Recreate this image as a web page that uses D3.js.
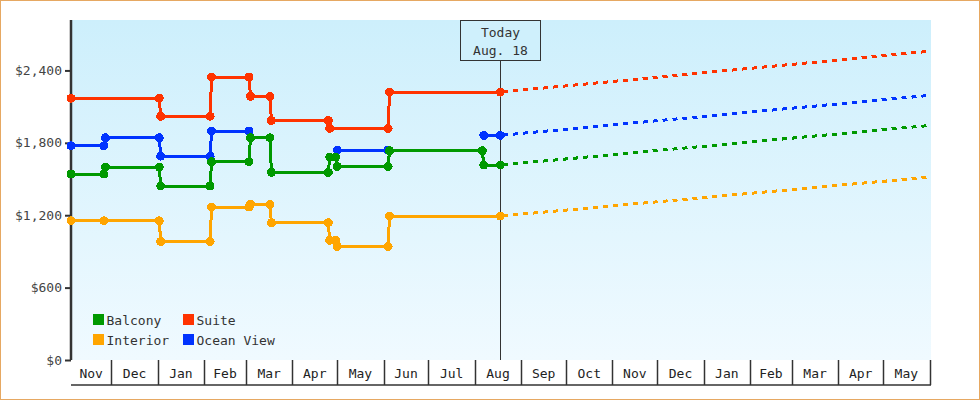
<!DOCTYPE html>
<html>
<head>
<meta charset="utf-8">
<script src="https://cdn.jsdelivr.net/npm/d3@7"></script>
<style>
  body { margin: 0; background: #fff; }
  svg text { font-family: "DejaVu Sans Mono", monospace; font-size: 13px; }
</style>
</head>
<body>
<div id="chart-area"></div>
<script>
// price history per cabin type: [date, price], null price = no data
const interior = [
    ["2012-11-04", 1154], ["2012-11-26", 1154], ["2013-01-02", 1154], ["2013-01-03", 983],
    ["2013-02-05", 983], ["2013-02-06", 1268], ["2013-03-03", 1268], ["2013-03-04", 1290],
    ["2013-03-17", 1290], ["2013-03-18", 1138], ["2013-04-25", 1138], ["2013-04-26", 992],
    ["2013-04-30", 992], ["2013-05-01", 942], ["2013-06-04", 942], ["2013-06-05", 1193],
    ["2013-08-18", 1193]
];
const oceanView = [
    ["2012-11-04", 1775], ["2012-11-26", 1775], ["2012-11-27", 1842], ["2013-01-02", 1842],
    ["2013-01-03", 1690], ["2013-02-05", 1690], ["2013-02-06", 1898], ["2013-03-03", 1898],
    ["2013-03-04", null],
    ["2013-05-01", 1740], ["2013-06-04", 1740],
    ["2013-06-05", null],
    ["2013-08-07", 1862], ["2013-08-18", 1862]
];
const balcony = [
    ["2012-11-04", 1541], ["2012-11-26", 1541], ["2012-11-27", 1599], ["2013-01-02", 1599],
    ["2013-01-03", 1442], ["2013-02-05", 1442], ["2013-02-06", 1643], ["2013-03-03", 1643],
    ["2013-03-04", 1842], ["2013-03-17", 1842], ["2013-03-18", 1555], ["2013-04-25", 1555],
    ["2013-04-26", 1682], ["2013-04-30", 1682], ["2013-05-01", 1605], ["2013-06-04", 1605],
    ["2013-06-05", 1735], ["2013-08-06", 1735], ["2013-08-07", 1616], ["2013-08-18", 1616]
];
const suite = [
    ["2012-11-04", 2170], ["2013-01-02", 2170], ["2013-01-03", 2020], ["2013-02-05", 2020],
    ["2013-02-06", 2345], ["2013-03-03", 2345], ["2013-03-04", 2185], ["2013-03-17", 2185],
    ["2013-03-18", 1985], ["2013-04-25", 1985], ["2013-04-26", 1920], ["2013-06-04", 1920],
    ["2013-06-05", 2220], ["2013-08-18", 2220]
];

const seriesNames = ["Interior", "Ocean View", "Balcony", "Suite"];
const seriesData = [interior, oceanView, balcony, suite];
const seriesColors = ["#ffa500", "#0033ff", "#009900", "#ff3300"];
const projectedEnd = [1517, 2194, 1945, 2560];

const legendOrder = ["Balcony", "Suite", "Interior", "Ocean View"];
const monthLabels = ["Nov", "Dec", "Jan", "Feb", "Mar", "Apr", "May", "Jun", "Jul", "Aug",
    "Sep", "Oct", "Nov", "Dec", "Jan", "Feb", "Mar", "Apr", "May"];
const yTicks = [0, 600, 1200, 1800, 2400];
const startDate = "2012-11-04", endDate = "2014-06-02", todayDate = "2013-08-18";
const todayLabel = ["Today", "Aug. 18"];

const parse = d3.timeParse("%Y-%m-%d");
const width = 980, height = 400;
const margin = {top: 20, right: 49, bottom: 40, left: 71};

const svg = d3.select("#chart-area")
    .append("svg")
    .attr("width", width)
    .attr("height", height);

const grad = svg.append("defs").append("linearGradient")
    .attr("id", "bg")
    .attr("x1", 0).attr("y1", 0).attr("x2", 0).attr("y2", 1);
grad.append("stop").attr("offset", "0%").attr("stop-color", "#cdeffc");
grad.append("stop").attr("offset", "100%").attr("stop-color", "#f0faff");

// outer frame
svg.append("rect")
    .attr("x", 0.5).attr("y", 0.5)
    .attr("width", width - 1).attr("height", height - 1)
    .attr("fill", "none")
    .attr("stroke", "#e6a862");

const x = d3.scaleTime()
    .domain([parse(startDate), parse(endDate)])
    .range([margin.left, width - margin.right]);

const y = d3.scaleLinear()
    .domain([0, 2818])
    .range([height - margin.bottom, margin.top]);

const x0 = x.range()[0], x1 = x.range()[1];
const yBase = y(0);

svg.append("rect")
    .attr("x", x0).attr("y", margin.top)
    .attr("width", x1 - x0).attr("height", yBase - margin.top)
    .attr("fill", "url(#bg)");

// month cells under the plot
const axisBottom = yBase + 25;
const firstMonth = d3.timeMonth.floor(x.domain()[0]);
const months = monthLabels.map((label, i) => {
    const s = d3.timeMonth.offset(firstMonth, i);
    const e = d3.timeMonth.offset(firstMonth, i + 1);
    return {label, s: d3.max([s, x.domain()[0]]), e: d3.min([e, x.domain()[1]]), end: e};
});

const xg = svg.append("g").attr("class", "x-cells");
xg.append("line")
    .attr("x1", x0).attr("x2", x1)
    .attr("y1", axisBottom).attr("y2", axisBottom)
    .attr("stroke", "#333").attr("stroke-width", 1.5);
xg.selectAll("line.sep")
    .data(months.filter(m => m.end <= x.domain()[1]))
    .join("line")
    .attr("class", "sep")
    .attr("x1", d => Math.round(x(d.end)) + 0.5)
    .attr("x2", d => Math.round(x(d.end)) + 0.5)
    .attr("y1", yBase).attr("y2", axisBottom)
    .attr("stroke", "#333").attr("stroke-width", 1.5);
xg.selectAll("text")
    .data(months)
    .join("text")
    .attr("x", d => (x(d.s) + x(d.e)) / 2)
    .attr("y", yBase + 13)
    .attr("dy", "0.35em")
    .attr("text-anchor", "middle")
    .attr("fill", "#222")
    .text(d => d.label);

// y axis
const yAxis = svg.append("g")
    .attr("transform", `translate(${x0},0)`)
    .call(d3.axisLeft(y)
        .tickValues(yTicks)
        .tickSize(6)
        .tickSizeOuter(0)
        .tickPadding(3)
        .tickFormat(d3.format("$,.0f")));
yAxis.select(".domain")
    .attr("d", `M0,${margin.top}V${yBase}`)
    .attr("stroke", "#333").attr("stroke-width", 2.5);
yAxis.selectAll(".tick line").attr("stroke", "#333").attr("stroke-width", 2);
yAxis.selectAll(".tick text")
    .attr("fill", "#444")
    .style("font-family", '"DejaVu Sans Mono", monospace')
    .style("font-size", "13px");

// today marker
const tx = Math.round(x(parse(todayDate))) + 0.5;
const boxTop = margin.top + 0.5, boxBottom = margin.top + 40.5;
svg.append("line")
    .attr("x1", tx).attr("x2", tx)
    .attr("y1", boxBottom).attr("y2", yBase)
    .attr("stroke", "#333").attr("stroke-width", 1);
svg.append("rect")
    .attr("x", tx - 40).attr("y", boxTop)
    .attr("width", 80).attr("height", boxBottom - boxTop)
    .attr("fill", "#cff0fc")
    .attr("stroke", "#333");
svg.selectAll("text.today")
    .data(todayLabel)
    .join("text")
    .attr("class", "today")
    .attr("x", tx)
    .attr("y", (d, i) => boxTop + 12 + i * 17.5)
    .attr("dy", "0.35em")
    .attr("text-anchor", "middle")
    .attr("fill", "#333")
    .text(d => d);

// price lines
const line = d3.line()
    .defined(d => d[1] != null)
    .x(d => x(parse(d[0])))
    .y(d => y(d[1]));

const plot = svg.append("g").style("shape-rendering", "crispEdges");

seriesData.forEach((data, i) => {
    const last = data[data.length - 1];
    plot.append("path")
        .datum([last, [endDate, projectedEnd[i]]])
        .attr("d", line)
        .attr("fill", "none")
        .attr("stroke", seriesColors[i])
        .attr("stroke-width", 3)
        .attr("stroke-dasharray", "5,5")
        .attr("stroke-dashoffset", -3);
});

seriesData.forEach((data, i) => {
    const g = plot.append("g");
    g.append("path")
        .datum(data)
        .attr("d", line)
        .attr("fill", "none")
        .attr("stroke", seriesColors[i])
        .attr("stroke-width", 3);
    g.selectAll("circle")
        .data(data.filter(d => d[1] != null))
        .join("circle")
        .attr("cx", d => x(parse(d[0])))
        .attr("cy", d => y(d[1]))
        .attr("r", 4.5)
        .attr("fill", seriesColors[i]);
});

// legend
const legend = svg.append("g");
legend.selectAll("g")
    .data(legendOrder)
    .join("g")
    .attr("transform", (d, i) => `translate(${93 + (i % 2) * 90},${314 + Math.floor(i / 2) * 20})`)
    .each(function (d) {
        const g = d3.select(this);
        g.append("rect")
            .attr("width", 11).attr("height", 11)
            .attr("fill", seriesColors[seriesNames.indexOf(d)]);
        g.append("text")
            .attr("x", 13.5).attr("y", 6)
            .attr("dy", "0.35em")
            .attr("fill", "#333")
            .text(d);
    });
</script>
</body>
</html>
